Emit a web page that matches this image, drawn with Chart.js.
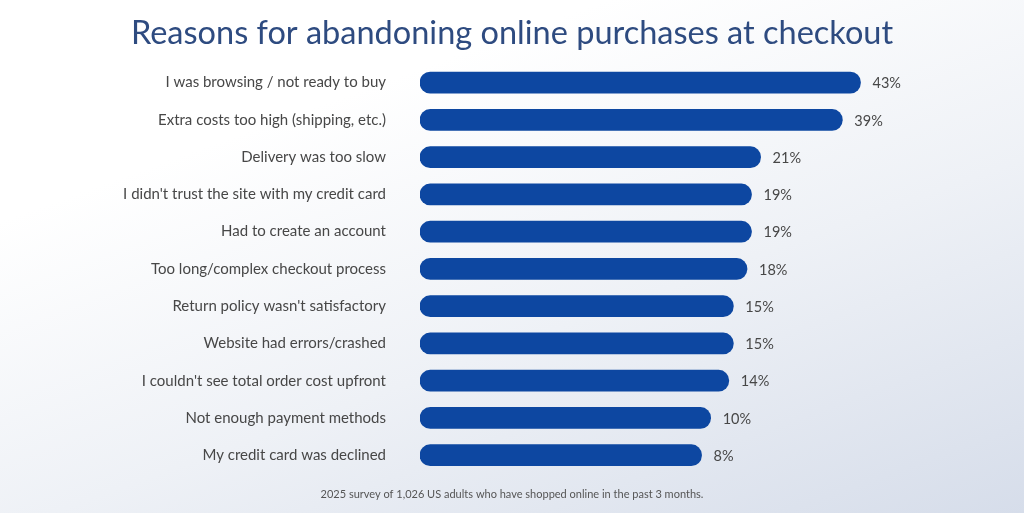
<!DOCTYPE html>
<html>
<head>
<meta charset="utf-8">
<script src="https://cdn.jsdelivr.net/npm/chart.js@4.4.1/dist/chart.umd.min.js"></script>
<style>
  html, body { margin: 0; padding: 0; }
  body {
    width: 1024px; height: 513px; overflow: hidden;
    background: linear-gradient(160deg, #ffffff 25%, #eef1f6 60%, #d6ddea 100%);
  }
  #wrap { position: relative; width: 1024px; height: 513px; }
</style>
</head>
<body>
<div id="wrap"><canvas id="reasonsChart"></canvas></div>
<script>
// survey categories and shares (percent)
const reasons = [
  "I was browsing / not ready to buy",
  "Extra costs too high (shipping, etc.)",
  "Delivery was too slow",
  "I didn't trust the site with my credit card",
  "Had to create an account",
  "Too long/complex checkout process",
  "Return policy wasn't satisfactory",
  "Website had errors/crashed",
  "I couldn't see total order cost upfront",
  "Not enough payment methods",
  "My credit card was declined"
];
const shares = [43, 39, 21, 19, 19, 18, 15, 15, 14, 10, 8];

const chartTitle = "Reasons for abandoning online purchases at checkout";
const footNote = "2025 survey of 1,026 US adults who have shopped online in the past 3 months.";

const FONT = "Lato, 'Open Sans', sans-serif";

// small plugin to write the % next to each bar
const valueLabels = {
  id: "valueLabels",
  afterDatasetsDraw(chart) {
    const ctx = chart.ctx;
    const meta = chart.getDatasetMeta(0);
    ctx.save();
    ctx.font = "14.5px " + FONT;
    ctx.fillStyle = "#474747";
    ctx.textBaseline = "middle";
    ctx.textAlign = "left";
    meta.data.forEach((bar, i) => {
      ctx.fillText(shares[i] + "%", bar.x + 12, bar.y + 1);
    });
    ctx.restore();
  }
};

new Chart("reasonsChart", {
  type: "bar",
  data: {
    labels: reasons,
    datasets: [{
      data: shares,
      base: -54,
      backgroundColor: "#0d47a1",
      borderRadius: 11,
      borderSkipped: false,
      barThickness: 21
    }]
  },
  options: {
    indexAxis: "y",
    responsive: true,
    maintainAspectRatio: false,
    animation: false,
    layout: { padding: 0 },
    plugins: {
      legend: { display: false },
      tooltip: { enabled: false },
      title: {
        display: true,
        text: chartTitle,
        color: "#2e4b80",
        font: { family: FONT, size: 32.5, weight: "normal" },
        padding: { top: 14, bottom: 11 }
      },
      subtitle: {
        display: true,
        position: "bottom",
        text: footNote,
        color: "#555555",
        font: { family: FONT, size: 11 },
        padding: { top: 14, bottom: 12 }
      }
    },
    scales: {
      x: {
        display: false,
        min: -54,
        max: 79
      },
      y: {
        grid: { display: false },
        border: { display: false },
        afterFit(scale) { scale.width = 420; },
        ticks: {
          color: "#474747",
          padding: 26,
          font: { family: FONT, size: 15 }
        }
      }
    }
  },
  plugins: [valueLabels]
});
</script>
</body>
</html>
